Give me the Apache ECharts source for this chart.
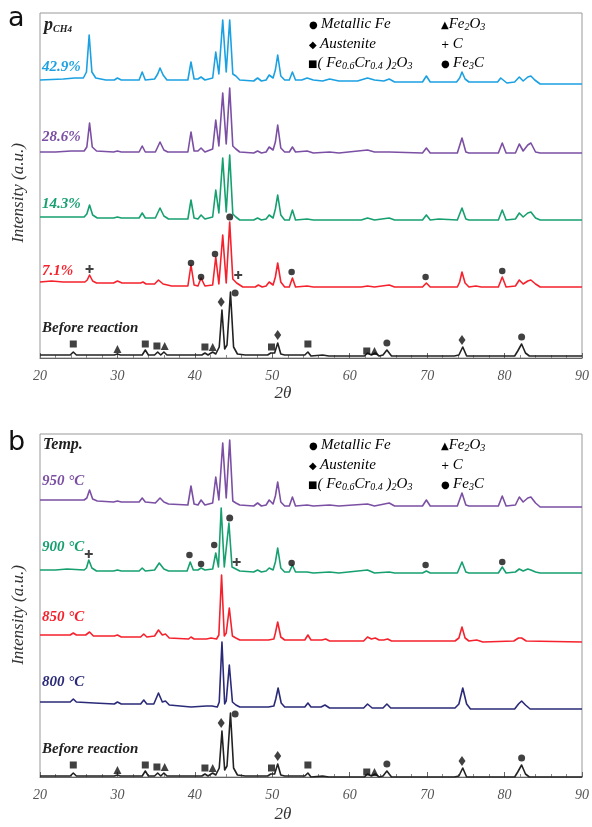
<!DOCTYPE html>
<html>
<head>
<meta charset="utf-8">
<script src="https://cdn.jsdelivr.net/npm/echarts@6/dist/echarts.min.js"></script>
<style>
  html, body { margin: 0; padding: 0; background: #fff; }
  #show_picture { width: 592px; height: 827px; }
</style>
</head>
<body>
<div id="show_picture"></div>
<script>
// 2theta tick labels
const xTicks = [20, 30, 40, 50, 60, 70, 80, 90];

// panel a: CH4 partial pressure, [2theta, intensity]
const ch4_429 = [[20,0],[21.5,0.5],[23,1],[24.5,2],[25.6,2],[26.0,8],[26.35,45],[26.7,8],[27.2,2],[28.5,0],[29.6,0],[30.0,2],[30.5,0],[32.8,0],[33.2,8],[33.6,0],[34.8,1],[35.2,6],[35.5,12],[35.9,5],[36.4,0],[39.1,0],[39.5,18],[39.9,1],[40.4,1],[40.8,3],[41.3,0],[42.3,2],[42.7,28],[43.1,6],[43.6,60],[44.05,8],[44.5,60],[44.9,6],[45.3,4],[45.8,0],[47.6,-1],[48.1,2],[48.6,-1],[49.2,0],[49.6,5],[50.1,2],[50.4,10],[50.7,25],[51.1,4],[51.6,0],[52.2,0],[52.6,8],[53.0,0],[53.8,0],[54.5,2],[55.3,0],[56.5,-1],[57.4,1],[58.6,-1],[61,-1],[62.3,2],[63.2,0],[64.4,-1],[65.1,1],[65.8,-2],[69.4,-2],[69.9,4],[70.4,-2],[73.8,-2],[74.2,2],[74.5,8],[74.9,1],[75.4,-2],[76.5,-2],[79.1,-2],[79.5,2],[79.75,4],[80.3,-3],[81.3,-2],[81.9,3],[82.4,-1],[83.0,3],[83.4,4],[83.9,0],[84.6,-4],[90,-4]];
const ch4_286 = [[20,0],[22,0],[24,1],[25.7,1],[26.05,5],[26.4,29],[26.75,5],[27.3,1],[29.5,0],[30.0,1],[30.5,0],[32.8,0],[33.2,6],[33.6,0],[34.9,0],[35.5,10],[36.0,2],[36.5,0],[39.1,0],[39.5,20],[39.9,1],[40.4,1],[40.8,4],[41.3,0],[42.3,3],[42.7,32],[43.1,6],[43.6,59],[44.05,8],[44.5,64],[44.9,6],[45.3,3],[45.8,0],[47.6,-1],[48.1,1],[48.6,-1],[49.2,0],[49.6,5],[50.1,2],[50.4,10],[50.7,27],[51.1,4],[51.6,0],[52.2,0],[52.6,5],[53.0,0],[54.5,1],[55.3,-1],[57.4,0],[58.6,-1],[62.3,2],[63.2,0],[65.1,0],[69.4,-1],[69.9,4],[70.4,-1],[73.9,-1],[74.5,14],[75.0,0],[75.4,-1],[79.2,-1],[79.7,9],[80.2,-1],[81.4,-1],[81.9,8],[82.4,1],[83.0,7],[83.4,9],[84.0,0],[84.6,-1],[90,-1]];
const ch4_143 = [[20,0],[22,0],[24,0],[25.7,0],[26.05,3],[26.4,12],[26.8,2],[27.4,-1],[29.5,-1],[30.0,0],[30.5,-1],[32.8,-1],[33.2,4],[33.6,-1],[34.9,-1],[35.5,9],[36.0,1],[36.6,-2],[39.1,-2],[39.5,17],[39.9,-1],[40.4,-2],[40.8,2],[41.3,-2],[42.3,0],[42.7,27],[43.1,4],[43.6,59],[44.05,5],[44.5,62],[44.9,3],[45.3,0],[45.8,-3],[47.6,-3],[48.1,-1],[48.6,-3],[49.2,-2],[49.6,2],[50.1,-1],[50.4,8],[50.7,22],[51.1,2],[51.6,-3],[52.2,-3],[52.6,7],[53.0,-3],[54.5,-2],[55.3,-3],[57.4,-3],[61.5,-3],[62.3,-1],[63.2,-3],[65.1,-1],[65.8,-3],[69.4,-3],[69.9,2],[70.4,-3],[71.5,-2],[73.9,-3],[74.5,9],[75.0,-2],[75.4,-3],[79.2,-3],[79.7,7],[80.2,-3],[81.4,-2],[81.9,4],[82.4,0],[83.0,4],[83.4,5],[84.0,-1],[84.6,-3],[90,-3]];
const ch4_71 = [[20,0],[21.5,1],[23,0],[24.5,0],[25.8,0],[26.1,2],[26.4,7],[26.8,1],[27.3,-1],[29.5,-1],[30.0,1],[30.6,-1],[33,-1],[33.3,0],[33.7,-2],[34.8,-2],[35.3,2],[35.9,-2],[37,-4],[39.1,-4],[39.5,17],[39.9,-3],[40.4,-4],[40.8,4],[41.3,-4],[42.3,-3],[42.7,25],[43.1,-2],[43.6,47],[44.05,-1],[44.5,60],[44.9,3],[45.4,-1],[46.2,-5],[47.8,-5],[48.2,-3],[48.7,-5],[49.2,-4],[49.6,0],[50.1,-3],[50.4,5],[50.7,19],[51.1,0],[51.6,-5],[52.2,-5],[52.6,4],[53.0,-5],[54.5,-4],[55.3,-5],[57.4,-5],[61.5,-5],[62.3,-4],[63.2,-5],[65.1,-3],[65.8,-5],[69.4,-5],[69.9,-1],[70.4,-5],[73.9,-5],[74.2,0],[74.5,10],[74.9,-1],[75.4,-5],[76.3,-4],[77,-5],[79.2,-5],[79.7,5],[80.2,-5],[81.4,-4],[81.9,2],[82.4,-2],[83.0,1],[83.4,2],[84.0,-2],[84.6,-5],[90,-5]];
const beforeReaction = [[20,0],[22,0],[23.9,0],[24.3,3],[24.7,0],[29.6,0],[30.0,1],[30.4,0],[33.2,0],[33.6,5],[34.0,0],[34.8,0],[35.2,3],[35.6,0],[36.0,3],[36.4,0],[40.9,0],[41.3,2],[41.7,0],[42.3,3],[42.7,1],[43.15,8],[43.5,45],[43.85,6],[44.15,10],[44.6,63],[45.0,8],[45.5,1],[46.5,0],[49.4,0],[49.8,2],[50.3,2],[50.7,12],[51.1,1],[51.6,0],[54.2,0],[54.6,3],[55.0,-1],[56.5,0],[57.3,-1],[61.9,-1],[62.3,2],[62.8,0],[63.3,2],[63.8,-1],[64.3,0],[64.8,5],[65.4,-1],[73.5,-1],[74.1,0],[74.6,8],[75.1,-1],[77,-1],[81.3,-1],[81.7,4],[82.2,11],[82.7,2],[83.2,-1],[90,-1]];

// panel b: temperature
const temp950 = [[20,0],[22,0],[24,0],[25.7,0],[26.05,2],[26.4,10],[26.8,1],[27.4,-1],[29.5,-2],[30.0,-1],[30.5,-2],[32.8,-2],[33.2,2],[33.6,-2],[34.9,-3],[35.5,2],[36.0,-2],[36.6,-4],[39.1,-5],[39.5,14],[39.9,-4],[40.4,-5],[40.8,0],[41.3,-5],[42.3,-3],[42.7,23],[43.1,0],[43.6,57],[44.05,2],[44.5,60],[44.9,-1],[45.3,-3],[45.8,-5],[47.6,-6],[48.1,-3],[48.6,-6],[49.2,-5],[49.6,0],[50.1,-4],[50.4,4],[50.7,18],[51.1,-2],[51.6,-6],[52.2,-6],[52.6,3],[53.0,-6],[54.5,-5],[55.3,-6],[57.4,-5],[58.6,-6],[62.3,-4],[63.2,-6],[65.1,-3],[65.8,-6],[69.4,-6],[69.9,0],[70.4,-6],[73.9,-6],[74.5,7],[75.0,-5],[75.4,-6],[79.2,-6],[79.7,4],[80.2,-6],[81.4,-5],[81.9,3],[82.4,-2],[83.0,2],[83.4,3],[84.0,-3],[84.6,-7],[90,-7]];
const temp900 = [[20,0],[22,0],[23.5,1],[25.7,0],[26.0,2],[26.3,10],[26.7,2],[27.3,-1],[29.5,-1],[30.0,0],[30.5,-1],[32.8,-1],[33.2,2],[33.6,-1],[34.8,0],[35.4,7],[36.0,1],[36.6,-1],[39.0,-1],[39.4,8],[39.8,0],[40.4,0],[40.8,2],[41.3,0],[42.3,1],[42.7,17],[43.05,3],[43.4,62],[43.8,3],[44.05,4],[44.4,47],[44.8,3],[45.3,1],[45.8,-1],[47.6,-2],[48.1,0],[48.6,-2],[49.2,-1],[49.6,2],[50.1,0],[50.4,8],[50.7,22],[51.1,2],[51.6,-2],[52.2,-2],[52.6,5],[53.0,-2],[54.5,-2],[55.3,-3],[57.4,-2],[58.6,-3],[62.3,0],[63.2,-3],[65.1,-2],[65.8,-3],[69.4,-3],[69.9,-1],[70.4,-3],[73.9,-3],[74.5,8],[75.0,-2],[75.4,-3],[79.2,-3],[79.7,3],[80.2,-3],[81.4,-2],[81.9,1],[82.4,-1],[83.0,1],[83.4,0],[84.0,-2],[84.6,-3],[90,-3]];
const temp850 = [[20,0],[21.5,0],[23.9,0],[24.3,2],[24.7,0],[25.9,0],[26.4,3],[26.9,-1],[29.6,-1],[30.0,0],[30.5,-2],[33.0,-2],[33.4,1],[33.8,-2],[34.8,-1],[35.3,5],[35.8,0],[36.2,1],[36.7,-3],[39.2,-4],[39.5,-2],[39.9,-4],[41.5,-4],[42.1,-3],[42.8,-4],[43.1,0],[43.45,60],[43.8,-1],[44.05,2],[44.45,27],[44.85,-1],[45.3,-3],[45.8,-5],[49.5,-5],[50.2,-4],[50.4,2],[50.7,13],[51.1,-2],[51.6,-5],[54.2,-5],[54.6,0],[55.0,-5],[56.4,-5],[56.9,-4],[57.4,-6],[61.8,-6],[62.3,-2],[62.8,-4],[63.3,-3],[63.8,-5],[64.4,-5],[64.9,-4],[65.4,-6],[73.6,-6],[74.1,-3],[74.5,8],[74.9,-3],[75.4,-6],[76.4,-5],[77.2,-7],[81.2,-6],[81.8,-3],[82.2,-3],[82.8,-6],[90,-7]];
const temp800 = [[20,0],[22,0],[23.9,0],[24.3,3],[24.7,0],[27,-1],[29.6,-2],[30.0,0],[30.5,-2],[33.0,-2],[33.4,2],[33.8,-2],[34.7,-2],[35.3,9],[35.8,0],[36.2,1],[36.7,-3],[39.5,-5],[41.5,-4],[42.2,-4],[42.9,-5],[43.15,0],[43.5,60],[43.85,-2],[44.05,1],[44.45,37],[44.85,0],[45.3,-3],[45.8,-5],[49.5,-5],[50.2,-4],[50.45,3],[50.75,14],[51.15,-1],[51.6,-5],[54.2,-5],[54.6,-1],[55.0,-5],[56.3,-5],[56.8,-3],[57.4,-6],[61.8,-6],[62.3,-2],[62.9,-6],[64.3,-6],[64.8,-2],[65.3,-6],[73.6,-6],[74.1,-2],[74.6,14],[75.1,-2],[75.6,-7],[81.3,-7],[81.8,-2],[82.2,1],[82.7,-3],[83.3,-7],[90,-7]];

// phase markers: [2theta, height above pattern baseline, phase]
const markBefore = [[24.3,11,'sq'],[30,6,'tri'],[33.6,11,'sq'],[35.1,9,'sq'],[36.1,9,'tri'],[41.3,8,'sq'],[42.3,8,'tri'],[43.4,53,'dia'],[45.2,62,'fe'],[49.9,8,'sq'],[50.7,20,'dia'],[54.6,11,'sq'],[62.2,4,'sq'],[63.2,4,'tri'],[64.8,12,'fe'],[74.5,15,'dia'],[82.2,18,'fe']];
const markCH4_71 = [[26.4,13,'c'],[39.5,19,'fe3c'],[40.8,5,'fe3c'],[42.6,28,'fe3c'],[44.5,65,'fe'],[45.6,7,'c'],[52.5,10,'fe3c'],[69.8,5,'fe3c'],[79.7,11,'fe3c']];
const markTemp900 = [[26.3,16,'c'],[39.3,15,'fe3c'],[40.8,6,'fe3c'],[42.5,25,'fe3c'],[44.5,52,'fe'],[45.4,8,'c'],[52.5,7,'fe3c'],[69.8,5,'fe3c'],[79.7,8,'fe3c']];

const labelsA = ['42.9%', '28.6%', '14.3%', '7.1%', 'Before reaction'];
const labelsB = ['950 \u00b0C', '900 \u00b0C', '850 \u00b0C', '800 \u00b0C', 'Before reaction'];

const colorsA = ['#1ba1e2', '#7b4fa3', '#16a06f', '#f5222d', '#222222'];
const colorsB = ['#7b4fa3', '#16a06f', '#f5222d', '#2a2a78', '#222222'];
const offsetsA = [278, 206, 141, 76, 3];
const offsetsB = [277, 207, 142, 75, 1];
const labelYA = [67, 137, 204, 271, 328];
const labelYB = [481, 547, 617, 682, 749];

const serif = '"Liberation Serif", "DejaVu Serif", serif';
const plus = 'path://M3,0H5V3H8V5H5V8H3V5H0V3H3Z';
const symbolOf = { fe: 'circle', fe3c: 'circle', dia: 'diamond', sq: 'rect', tri: 'triangle', c: plus };
const sizeOf = { fe: 7, fe3c: 6.5, dia: [7, 10], sq: 7, tri: 8, c: 8 };

let show_picture = document.getElementById('show_picture');
let myChart = echarts.init(show_picture);

function lineSeries(data, offset, color, idx) {
    return {
        type: 'line', xAxisIndex: idx, yAxisIndex: idx,
        data: data.map(p => [p[0], p[1] + offset]),
        showSymbol: false, silent: true,
        lineStyle: { color: color, width: 1.6, join: 'round' }
    };
}

function markSeries(marks, offset, idx) {
    return {
        type: 'scatter', xAxisIndex: idx, yAxisIndex: idx, silent: true, z: 5,
        itemStyle: { color: '#111' },
        data: marks.map(m => ({ value: [m[0], m[1] + offset], symbol: symbolOf[m[2]], symbolSize: sizeOf[m[2]] }))
    };
}

let series = [];
[ch4_429, ch4_286, ch4_143, ch4_71, beforeReaction].forEach((d, i) => series.push(lineSeries(d, offsetsA[i], colorsA[i], 0)));
[temp950, temp900, temp850, temp800, beforeReaction].forEach((d, i) => series.push(lineSeries(d, offsetsB[i], colorsB[i], 1)));
series.push(markSeries(markBefore, offsetsA[4], 0));
series.push(markSeries(markCH4_71, offsetsA[3], 0));
series.push(markSeries(markBefore, offsetsB[4], 1));
series.push(markSeries(markTemp900, offsetsB[1], 1));

function xAxis(idx) {
    return {
        type: 'value', gridIndex: idx, min: 20, max: 90, interval: 10,
        axisLine: { lineStyle: { color: '#666', width: 1 } },
        axisTick: { inside: true, length: 5, lineStyle: { color: '#666' } },
        minorTick: { show: true, splitNumber: 5, length: 3, lineStyle: { color: '#888' } },
        splitLine: { show: false },
        axisLabel: {
            margin: 11, color: '#555', fontFamily: serif, fontStyle: 'italic', fontSize: 14,
            formatter: v => xTicks.indexOf(v) >= 0 ? String(v) : ''
        }
    };
}

function yAxis(idx, max) {
    return {
        type: 'value', gridIndex: idx, min: 0, max: max,
        axisLine: { show: false }, axisTick: { show: false },
        axisLabel: { show: false }, splitLine: { show: false }
    };
}

const rich = {
    n: { fontFamily: serif, fontStyle: 'italic', fontSize: 15, color: '#222', lineHeight: 18, verticalAlign: 'bottom' },
    s: { fontFamily: serif, fontStyle: 'italic', fontSize: 10, color: '#222', lineHeight: 14, verticalAlign: 'bottom' },
    m: { fontFamily: '"DejaVu Sans", sans-serif', fontSize: 10, color: '#111', lineHeight: 18, verticalAlign: 'bottom', padding: [0, 0, 2, 0] }
};

function legend(top) {
    const rows = [
        [309, top + 10, '{m|\u25cf} {n|Metallic Fe}'],
        [309, top + 30, '{m|\u25c6} {n|Austenite}'],
        [308, top + 49, '{m|\u25a0}{n|( Fe}{s|0.6}{n|Cr}{s|0.4}{n| )}{s|2}{n|O}{s|3}'],
        [441, top + 10, '{m|\u25b2}{n|Fe}{s|2}{n|O}{s|3}'],
        [441, top + 30, '{m|+} {n|C}'],
        [441, top + 49, '{m|\u25cf} {n|Fe}{s|3}{n|C}']
    ];
    return rows.map(r => ({
        type: 'text', x: r[0], y: r[1], silent: true,
        style: { text: r[2], rich: rich, verticalAlign: 'middle' }
    }));
}

let graphics = [];
function seriesLabels(labels, colors, ys) {
    labels.forEach((t, i) => graphics.push({
        type: 'text', x: 42, y: ys[i], silent: true,
        style: { text: t, fill: colors[i], font: 'italic bold 15px ' + serif, verticalAlign: 'middle' }
    }));
}
seriesLabels(labelsA, colorsA, labelYA);
seriesLabels(labelsB, colorsB, labelYB);
graphics = graphics.concat(legend(13), legend(434));

graphics.push(
    { type: 'text', x: 8, y: 19, silent: true, style: { text: 'a', font: '27px "DejaVu Sans", sans-serif', fill: '#111', verticalAlign: 'middle' } },
    { type: 'text', x: 8, y: 443, silent: true, style: { text: 'b', font: '27px "DejaVu Sans", sans-serif', fill: '#111', verticalAlign: 'middle' } },
    { type: 'text', x: 44, y: 24, silent: true, style: {
        text: '{p|p}{s|CH}{t|4}', verticalAlign: 'middle',
        rich: {
            p: { font: 'italic bold 18px ' + serif, fill: '#222', lineHeight: 20, verticalAlign: 'bottom' },
            s: { font: 'italic bold 10px ' + serif, fill: '#222', lineHeight: 14, verticalAlign: 'bottom' },
            t: { font: 'italic bold 9px ' + serif, fill: '#222', lineHeight: 11, verticalAlign: 'bottom' }
        } } },
    { type: 'text', x: 43, y: 445, silent: true, style: { text: 'Temp.', font: 'italic bold 16px ' + serif, fill: '#222', verticalAlign: 'middle' } },
    { type: 'text', x: 19, y: 193, rotation: Math.PI / 2, silent: true, style: { text: 'Intensity (a.u.)', font: 'italic 17px ' + serif, fill: '#333', align: 'center', verticalAlign: 'middle' } },
    { type: 'text', x: 19, y: 615, rotation: Math.PI / 2, silent: true, style: { text: 'Intensity (a.u.)', font: 'italic 17px ' + serif, fill: '#333', align: 'center', verticalAlign: 'middle' } },
    { type: 'text', x: 283, y: 394, silent: true, style: { text: '2\u03b8', font: 'italic 17px ' + serif, fill: '#333', align: 'center', verticalAlign: 'middle' } },
    { type: 'text', x: 283, y: 815, silent: true, style: { text: '2\u03b8', font: 'italic 17px ' + serif, fill: '#333', align: 'center', verticalAlign: 'middle' } }
);

let option = {
    animation: false,
    backgroundColor: '#fff',
    grid: [
        { left: 40, right: 9, top: 13, height: 345, show: true, borderColor: '#999', borderWidth: 1 },
        { left: 40, right: 9, top: 434, height: 343, show: true, borderColor: '#999', borderWidth: 1 }
    ],
    xAxis: [xAxis(0), xAxis(1)],
    yAxis: [yAxis(0, 345), yAxis(1, 343)],
    series: series,
    graphic: graphics
};

option && myChart.setOption(option);
</script>
</body>
</html>
